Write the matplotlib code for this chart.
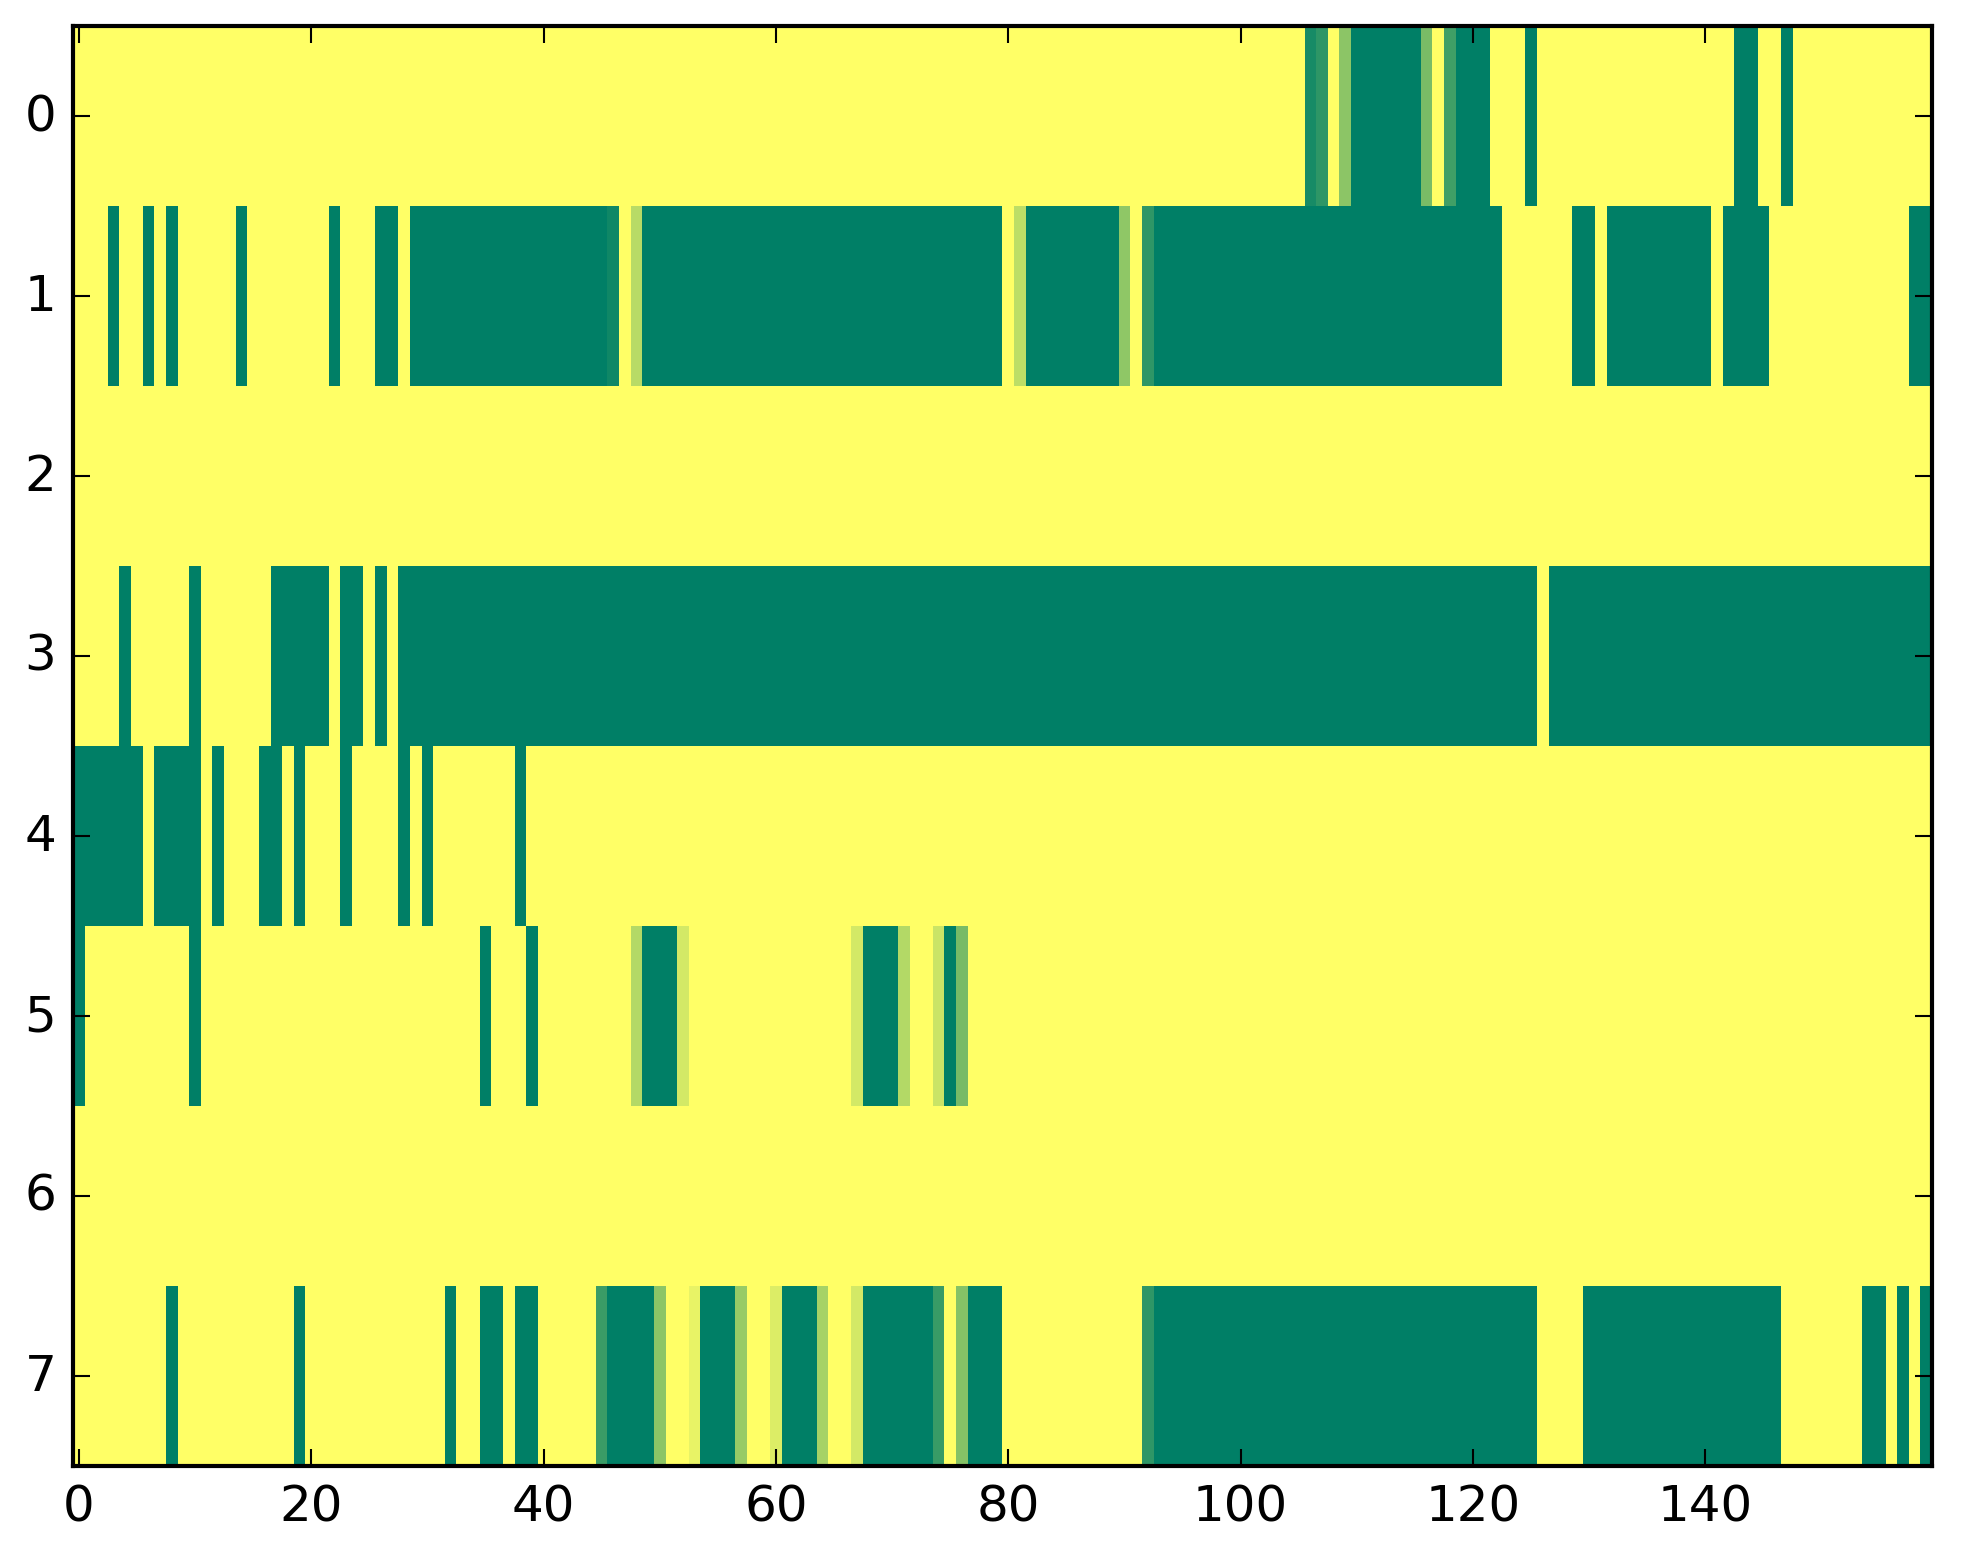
import numpy as np
import matplotlib
matplotlib.use('Agg')
import matplotlib.pyplot as plt

plt.style.use('classic')

n_rows = 8
n_cols = 160
y_ticks = list(range(8))
x_ticks = [0, 20, 40, 60, 80, 100, 120, 140]

# dark green cells (value 0), runs of (first, last) columns, inclusive
row0_green = [(110, 115), (119, 121), (125, 125), (143, 144), (147, 147)]
row1_green = [(3, 3), (6, 6), (8, 8), (14, 14), (22, 22), (26, 27), (29, 45),
              (49, 79), (82, 89), (93, 122), (129, 130), (132, 140),
              (142, 145), (158, 159)]
row2_green = []
row3_green = [(4, 4), (10, 10), (17, 21), (23, 24), (26, 26), (28, 125),
              (127, 159)]
row4_green = [(0, 5), (7, 10), (12, 12), (16, 17), (19, 19), (23, 23),
              (28, 28), (30, 30), (38, 38)]
row5_green = [(0, 0), (10, 10), (35, 35), (39, 39), (49, 51), (68, 70),
              (75, 75)]
row6_green = []
row7_green = [(8, 8), (19, 19), (32, 32), (35, 36), (38, 39), (46, 49),
              (54, 56), (61, 63), (68, 73), (77, 79), (93, 125), (130, 146),
              (154, 155), (157, 157), (159, 159)]

# in-between cells {column: value}
row0_mid = {106: 0.09, 107: 0.18, 109: 0.55, 116: 0.48, 118: 0.25}
row1_mid = {46: 0.06, 48: 0.72, 81: 0.74, 90: 0.56, 92: 0.18}
row2_mid = {}
row3_mid = {}
row4_mid = {}
row5_mid = {48: 0.70, 52: 0.83, 67: 0.83, 71: 0.70, 74: 0.79, 76: 0.47}
row6_mid = {}
row7_mid = {45: 0.23, 50: 0.55, 53: 0.91, 57: 0.59, 60: 0.86, 64: 0.65,
            67: 0.83, 74: 0.22, 76: 0.52, 92: 0.18}

greens = [row0_green, row1_green, row2_green, row3_green,
          row4_green, row5_green, row6_green, row7_green]
mids = [row0_mid, row1_mid, row2_mid, row3_mid,
        row4_mid, row5_mid, row6_mid, row7_mid]

grid = np.ones((n_rows, n_cols))
for r in range(n_rows):
    for a, b in greens[r]:
        grid[r, a:b + 1] = 0.0
    for c, v in mids[r].items():
        grid[r, c] = v

# classic 8x6 figure at 300 dpi, cropped tight -> keep same pixel geometry
W, H, DPI = 1963, 1564, 300
fig = plt.figure(figsize=(W / DPI, H / DPI), dpi=DPI, facecolor='white')
ax = fig.add_axes([73 / W, 1 - 1467 / H, (1932 - 73) / W, (1467 - 27) / H])

ax.imshow(grid, cmap='summer', vmin=0, vmax=1, aspect='auto',
          interpolation='nearest')
ax.set_xlim(-0.5, n_cols - 0.5)
ax.set_ylim(n_rows - 0.5, -0.5)
ax.set_xticks(x_ticks)
ax.set_yticks(y_ticks)
ax.tick_params(labelsize=12)

fig.savefig('out.png', dpi=DPI, facecolor='white')
